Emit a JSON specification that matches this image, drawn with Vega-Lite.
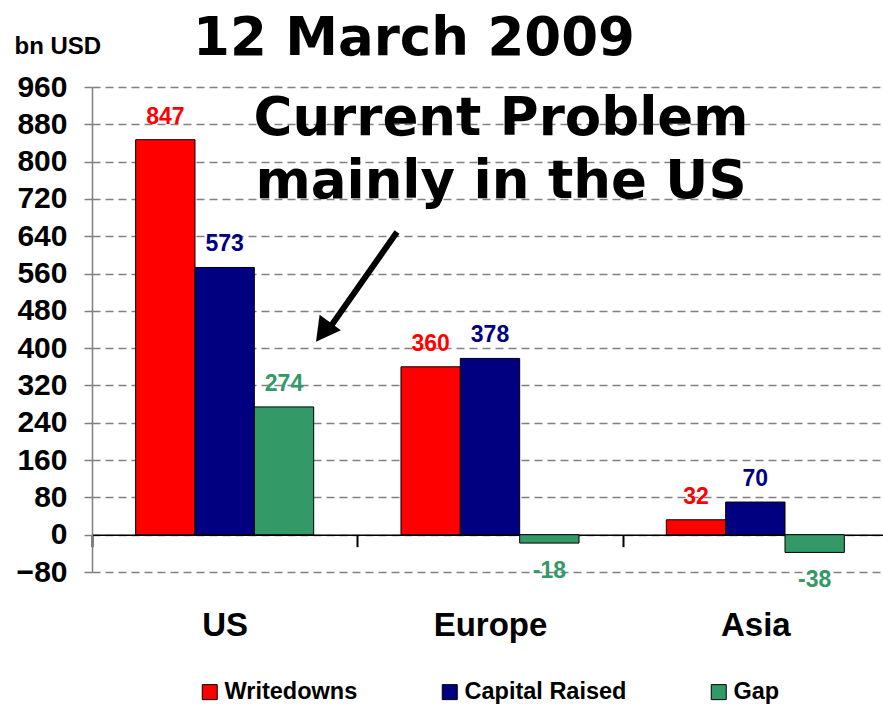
{
  "$schema": "https://vega.github.io/schema/vega-lite/v6.json",
  "width": 791,
  "height": 485,
  "autosize": {"type": "none"},
  "padding": {"left": 92, "top": 87, "right": 0, "bottom": 134},
  "background": "white",
  "config": {"view": {"stroke": null}, "font": "Liberation Sans"},
  "datasets": {
    "bars": [
      {"region": "US", "series": "Writedowns", "value": 847},
      {"region": "US", "series": "Capital Raised", "value": 573},
      {"region": "US", "series": "Gap", "value": 274},
      {"region": "Europe", "series": "Writedowns", "value": 360},
      {"region": "Europe", "series": "Capital Raised", "value": 378},
      {"region": "Europe", "series": "Gap", "value": -18},
      {"region": "Asia", "series": "Writedowns", "value": 32},
      {"region": "Asia", "series": "Capital Raised", "value": 70},
      {"region": "Asia", "series": "Gap", "value": -38}
    ],
    "notes": [
      {"pos": 1.2136, "value": 1028.6, "text": "12 March 2009"},
      {"pos": 1.5415, "value": 857, "text": "Current Problem"},
      {"pos": 1.5415, "value": 722, "text": "mainly in the US"}
    ],
    "arrow": [{"pos": 1.1495, "value": 649, "pos2": 0.9, "value2": 447}],
    "head": [{"pos": 0.8442, "value": 413.6}]
  },
  "encoding": {
    "y": {
      "field": "value",
      "type": "quantitative",
      "scale": {"domain": [-80, 960], "nice": false, "zero": false},
      "axis": {
        "title": "bn USD",
        "titleAngle": 0,
        "titleAlign": "left",
        "titleBaseline": "alphabetic",
        "titleX": -78,
        "titleY": -34,
        "titleFont": "Liberation Sans",
        "titleFontSize": 24,
        "titleFontWeight": "bold",
        "titleColor": "black",
        "values": [-80, 0, 80, 160, 240, 320, 400, 480, 560, 640, 720, 800, 880, 960],
        "labelFont": "Liberation Sans",
        "labelFontSize": 30,
        "labelFontWeight": "bold",
        "labelColor": "black",
        "labelPadding": 16,
        "labelFlush": false,
        "labelOverlap": false,
        "labelBound": false,
        "tickSize": 9,
        "tickColor": "#808080",
        "tickDash": [8, 5],
        "tickWidth": 1.5,
        "grid": true,
        "gridColor": "#808080",
        "gridDash": [8, 5],
        "gridWidth": 1.5,
        "domainColor": "#808080",
        "domainWidth": 1.5
      }
    }
  },
  "layer": [
    {
      "data": {"name": "bars"},
      "encoding": {
        "x": {
          "field": "region",
          "type": "nominal",
          "sort": ["US", "Europe", "Asia"],
          "scale": {"domain": ["US", "Europe", "Asia"], "range": [0, 796], "paddingInner": 0.329, "paddingOuter": 0.1645},
          "axis": {
            "title": null,
            "orient": "bottom",
            "offset": -37.33,
            "domainColor": "black",
            "domainWidth": 1.5,
            "tickColor": "black",
            "tickWidth": 2,
            "tickSize": 12,
            "tickOffset": -132.67,
            "labelOffset": 132.67,
            "labelFont": "Liberation Sans",
            "labelFontSize": 33,
            "labelFontWeight": "bold",
            "labelColor": "black",
            "labelPadding": 63,
            "labelAngle": 0,
            "grid": false
          }
        },
        "xOffset": {"field": "series", "type": "nominal", "scale": {"domain": ["Writedowns", "Capital Raised", "Gap"]}},
        "color": {
          "field": "series",
          "type": "nominal",
          "scale": {"domain": ["Writedowns", "Capital Raised", "Gap"], "range": ["#FF0000", "#000080", "#339966"]},
          "legend": {
            "orient": "none",
            "legendX": 106,
            "legendY": 593,
            "direction": "horizontal",
            "title": null,
            "symbolType": "square",
            "symbolSize": 225,
            "symbolStrokeColor": "black",
            "symbolStrokeWidth": 1,
            "symbolOpacity": 1,
            "labelFont": "Liberation Sans",
            "labelFontSize": 23.5,
            "labelFontWeight": "bold",
            "labelColor": "black",
            "labelOffset": 3,
            "labelLimit": 400,
            "columnPadding": 80,
            "padding": 0
          }
        }
      },
      "layer": [
        {"mark": {"type": "bar", "stroke": "black", "strokeWidth": 1}},
        {
          "transform": [{"filter": "datum.value >= 0"}],
          "mark": {"type": "text", "baseline": "alphabetic", "dy": -16, "font": "Liberation Sans", "fontSize": 23, "fontWeight": "bold"},
          "encoding": {"text": {"field": "value"}}
        },
        {
          "transform": [{"filter": "datum.value < 0"}],
          "mark": {"type": "text", "baseline": "top", "dy": 17, "font": "Liberation Sans", "fontSize": 23, "fontWeight": "bold"},
          "encoding": {"text": {"field": "value"}}
        }
      ]
    },
    {
      "encoding": {
        "x": {"field": "pos", "type": "quantitative", "scale": {"domain": [0, 3], "range": [0, 796], "nice": false, "zero": false}, "axis": null}
      },
      "layer": [
        {
          "data": {"name": "notes"},
          "mark": {"type": "text", "font": "DejaVu Sans", "fontSize": 53, "fontWeight": "bold", "baseline": "alphabetic", "align": "center", "color": "black"},
          "encoding": {"text": {"field": "text"}}
        },
        {
          "data": {"name": "arrow"},
          "mark": {"type": "rule", "strokeWidth": 6, "color": "black"},
          "encoding": {"x2": {"field": "pos2"}, "y2": {"field": "value2"}}
        },
        {
          "data": {"name": "head"},
          "mark": {"type": "point", "shape": "M0,0 L0.55,1 L-0.55,1 Z", "size": 2304, "angle": 216.4, "filled": true, "color": "black", "opacity": 1}
        }
      ]
    }
  ],
  "resolve": {"scale": {"x": "independent"}}
}
